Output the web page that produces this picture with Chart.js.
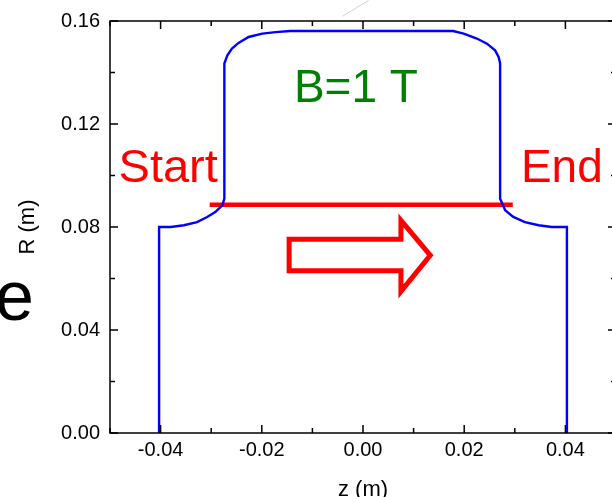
<!DOCTYPE html>
<html>
<head>
<meta charset="utf-8">
<title>R vs z</title>
<script src="https://cdn.jsdelivr.net/npm/chart.js@4.4.0/dist/chart.umd.min.js"></script>
<style>
  html, body { margin: 0; padding: 0; background: #fff; overflow: hidden; }
  #wrap { width: 625px; height: 497px; }
</style>
</head>
<body>
<div id="wrap"><canvas id="mychart" width="625" height="497"></canvas></div>
<script>
// data (metres)

// outline of the bore
let boreZ = [-0.0403, -0.0403, -0.0380, -0.0354, -0.0328, -0.0308, -0.0292, -0.0278, -0.0274, -0.0274,
  -0.0268, -0.0259, -0.0246, -0.0226, -0.0199, -0.0173, -0.0144, 0.0178, 0.0199, 0.0225,
  0.0245, 0.0261, 0.0268, 0.0271, 0.0271, 0.0281, 0.0297, 0.0320, 0.0347, 0.0373, 0.0403, 0.0403];
let boreR = [0, 0.0800, 0.0800, 0.0807, 0.0819, 0.0839, 0.0858, 0.0884, 0.0910, 0.1435,
  0.1467, 0.1493, 0.1515, 0.1538, 0.1551, 0.1557, 0.1561, 0.1561, 0.1551, 0.1532,
  0.1512, 0.1486, 0.1460, 0.1435, 0.0910, 0.0865, 0.0839, 0.0819, 0.0807, 0.0800, 0.0800, 0];

// red start -> end line
let beamZ = [-0.0303, 0.0296];
let beamR = [0.0886, 0.0886];

// hollow arrow outline
let arrowZ = [-0.0146, 0.0075, 0.0075, 0.0133, 0.0075, 0.0075, -0.0146, -0.0146];
let arrowR = [0.0752, 0.0752, 0.0826, 0.0690, 0.0550, 0.0630, 0.0630, 0.0752];

// faint stray line above the frame
let strayZ = [-0.0041, 0.0011];
let strayR = [0.1618, 0.1680];

// axes
let zMin = -0.05, zMax = 0.05;
let rMin = 0, rMax = 0.16;
let zTitle = 'z (m)';
let rTitle = 'R (m)';

// text on the plot
let notes = [
  { text: 'Start', z: -0.0385, r: 0.0974, size: 47, color: '#ff0000' },
  { text: 'End', z: 0.0393, r: 0.0974, size: 46, color: '#ff0000' },
  { text: 'B=1 T', z: -0.0014, r: 0.1284, size: 46, color: '#008000' },
  { text: 'e', z: -0.0689, r: 0.0437, size: 70, color: '#000000' }
];

let fontFamily = '"Liberation Sans", Arial, Helvetica, sans-serif';

function toPoints(xs, ys) {
  let pts = [];
  for (let i = 0; i < xs.length; i++) {
    pts.push({ x: xs[i], y: ys[i] });
  }
  return pts;
}

// frame + inward tick marks
let framePlugin = {
  id: 'frame',
  afterDraw(chart) {
    let ctx = chart.ctx;
    let a = chart.chartArea;
    let xs = chart.scales.x;
    let ys = chart.scales.y;
    ctx.save();
    ctx.strokeStyle = '#000';
    ctx.lineWidth = 1.5;
    ctx.strokeRect(a.left, a.top, a.right - a.left, a.bottom - a.top);
    ctx.beginPath();
    xs.ticks.forEach(t => {
      let px = xs.getPixelForValue(t.value);
      let len = t.label ? 8 : 5;
      ctx.moveTo(px, a.bottom); ctx.lineTo(px, a.bottom - len);
      ctx.moveTo(px, a.top); ctx.lineTo(px, a.top + len);
    });
    ys.ticks.forEach(t => {
      let py = ys.getPixelForValue(t.value);
      let len = t.label ? 8 : 5;
      ctx.moveTo(a.left, py); ctx.lineTo(a.left + len, py);
      ctx.moveTo(a.right, py); ctx.lineTo(a.right - len, py);
    });
    ctx.stroke();
    ctx.restore();
  }
};

let notePlugin = {
  id: 'notes',
  afterDatasetsDraw(chart) {
    let ctx = chart.ctx;
    let xs = chart.scales.x;
    let ys = chart.scales.y;
    ctx.save();
    ctx.textAlign = 'center';
    ctx.textBaseline = 'alphabetic';
    notes.forEach(n => {
      ctx.font = n.size + 'px ' + fontFamily;
      ctx.fillStyle = n.color;
      ctx.fillText(n.text, xs.getPixelForValue(n.z), ys.getPixelForValue(n.r));
    });
    ctx.restore();
  }
};

let ctxWindow = document.getElementById('mychart');

let myObj = {
  type: 'scatter',
  data: {
    datasets: [{
      data: toPoints(strayZ, strayR),
      showLine: true,
      borderColor: '#d4d4d4',
      borderWidth: 1,
      pointRadius: 0,
      clip: false
    },
    {
      data: toPoints(boreZ, boreR),
      showLine: true,
      borderColor: '#0000ff',
      borderWidth: 2.4,
      pointRadius: 0,
      tension: 0
    },
    {
      data: toPoints(beamZ, beamR),
      showLine: true,
      borderColor: '#ff0000',
      borderWidth: 4.5,
      pointRadius: 0
    },
    {
      data: toPoints(arrowZ, arrowR),
      showLine: true,
      borderColor: '#ff0000',
      borderWidth: 5,
      borderJoinStyle: 'miter',
      borderCapStyle: 'square',
      pointRadius: 0
    }]
  },
  options: {
    responsive: false,
    animation: false,
    events: [],
    layout: { padding: { top: 21, right: 9, left: 0, bottom: 0 } },
    plugins: {
      legend: { display: false },
      tooltip: { enabled: false }
    },
    scales: {
      x: {
        type: 'linear',
        min: zMin,
        max: zMax,
        grid: { display: false },
        border: { display: false },
        afterFit: function (scale) { scale.height = 64; },
        ticks: {
          stepSize: 0.01,
          autoSkip: false,
          maxRotation: 0,
          padding: -3,
          color: '#000',
          font: { family: fontFamily, size: 20 },
          callback: function (v) {
            return Math.round(v * 100) % 2 === 0 ? v.toFixed(2) : '';
          }
        },
        title: {
          display: true,
          text: zTitle,
          color: '#000',
          font: { family: fontFamily, size: 22 },
          padding: { top: 0, bottom: -6 }
        }
      },
      y: {
        type: 'linear',
        min: rMin,
        max: rMax,
        grid: { display: false },
        border: { display: false },
        afterFit: function (scale) { scale.width = 110; },
        ticks: {
          stepSize: 0.02,
          autoSkip: false,
          padding: 2,
          color: '#000',
          font: { family: fontFamily, size: 20 },
          callback: function (v) {
            return Math.round(v * 100) % 4 === 0 ? v.toFixed(2) : '';
          }
        },
        title: {
          display: true,
          text: rTitle,
          color: '#000',
          font: { family: fontFamily, size: 22 },
          padding: { top: 15, bottom: 0 }
        }
      }
    }
  },
  plugins: [framePlugin, notePlugin]
};

const myChart = new Chart(ctxWindow, myObj);
</script>
</body>
</html>
